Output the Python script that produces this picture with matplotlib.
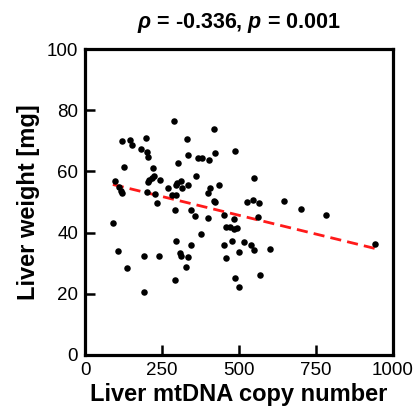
import matplotlib
matplotlib.use("Agg")
import matplotlib.pyplot as plt
import numpy as np

# valores (copias de mtDNA, peso del higado en mg)
copias = [95.8, 109.7, 115.2, 120.6, 90.3, 106.5, 137.7, 118.4, 147.4, 152.9,
          128.1, 182.9, 198.1, 200.6, 205.5, 219.4, 222.6, 217.4, 206.5, 203.2,
          201.3, 228.1, 244.2, 233.5, 190.3, 192.6, 241.0, 269.0, 289.4, 283.9,
          294.8, 294.8, 300.0, 311.0, 314.2, 303.2, 330.3, 335.5, 333.5, 359.4,
          367.7, 380.6, 401.3, 418.4, 421.6, 488.4, 434.5, 406.5, 400.6, 418.4,
          423.2, 292.6, 344.2, 357.1, 400.0, 451.3, 482.9, 376.5, 295.8, 343.5,
          308.7, 311.9, 334.5, 327.1, 292.6, 459.4, 470.0, 482.9, 493.5, 451.3,
          476.5, 516.1, 540.0, 499.7, 457.1, 549.0, 486.1, 499.0, 526.5, 545.8,
          564.5, 548.4, 561.3, 644.8, 703.2, 783.5, 602.3, 570.0, 941.0]
pesos = [56.8, 54.8, 53.7, 53.1, 43.2, 33.9, 28.5, 70.0, 70.2, 68.7,
         61.5, 67.3, 71.0, 66.4, 64.8, 61.0, 58.6, 57.9, 57.3, 56.7,
         53.4, 52.5, 57.1, 49.7, 32.5, 20.5, 32.5, 54.7, 76.5, 52.4,
         52.4, 55.6, 56.2, 57.0, 54.6, 62.7, 70.7, 65.5, 55.6, 58.6,
         64.4, 64.4, 63.7, 74.0, 66.1, 66.7, 55.5, 54.5, 53.1, 50.4,
         49.9, 47.5, 47.5, 45.4, 44.7, 45.9, 44.6, 39.4, 37.3, 36.1,
         33.2, 32.3, 32.0, 28.9, 24.4, 42.0, 41.9, 41.3, 41.4, 35.9,
         37.4, 36.9, 36.1, 33.8, 31.6, 34.4, 25.1, 22.2, 50.1, 50.8,
         49.6, 57.9, 45.1, 50.5, 47.8, 45.9, 34.6, 26.0, 36.4]

plt.rcParams['font.family'] = ['Liberation Sans', 'DejaVu Sans']
plt.rcParams['mathtext.fontset'] = 'custom'
plt.rcParams['mathtext.it'] = 'Liberation Sans:italic:bold'
plt.rcParams['mathtext.rm'] = 'Liberation Sans:bold'

x = np.array(copias)
y = np.array(pesos)

fig = plt.figure(figsize=(4.17, 4.15), dpi=100)
ax = fig.add_axes([0.204, 0.1446, 0.738, 0.737])

ax.scatter(x, y, s=22, color='black', zorder=3, linewidths=0)

# recta de regresion
m, b = np.polyfit(x, y, 1)
xr = np.array([x.min(), x.max()])
ax.plot(xr, m * xr + b, color='#ff1a1a', lw=2, linestyle=(0, (4, 2.2)), zorder=2)

ax.set_xlim(0, 1000)
ax.set_ylim(0, 100)
ax.set_xticks([0, 250, 500, 750, 1000])
ax.set_yticks([0, 20, 40, 60, 80, 100])
ax.tick_params(direction='in', length=7, width=1.8, labelsize=13.5, pad=5)
for s in ax.spines.values():
    s.set_linewidth(2.3)

ax.set_xlabel("Liver mtDNA copy number", fontsize=17, fontweight='bold', labelpad=3)
ax.set_ylabel("Liver weight [mg]", fontsize=17, fontweight='bold', labelpad=5)
ax.set_title(r"$\rho$ = -0.336, $p$ = 0.001", fontsize=15.5, fontweight='bold', pad=15)

fig.savefig("out.png", dpi=100)
